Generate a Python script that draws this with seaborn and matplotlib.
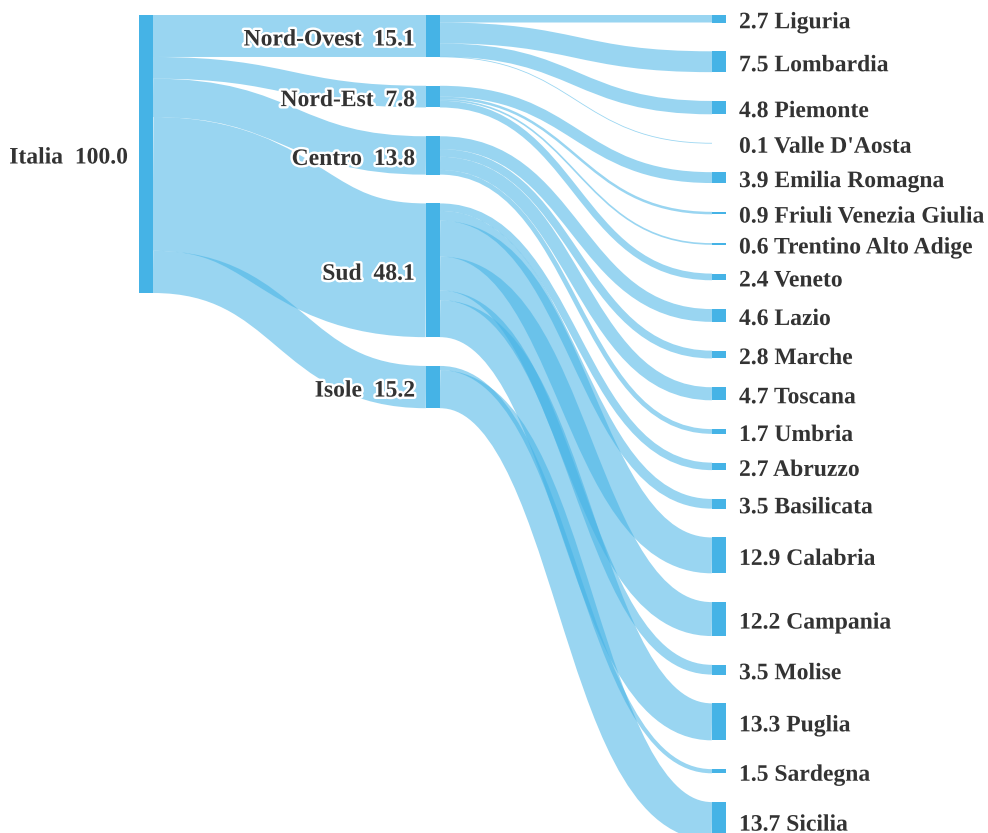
import matplotlib
matplotlib.use("Agg")
import matplotlib.pyplot as plt
import matplotlib.patheffects as pe
from matplotlib.path import Path
from matplotlib.patches import PathPatch, Rectangle
from matplotlib import font_manager
import seaborn as sns

# ---------------- data ----------------
root_name = "Italia"
root_value = 100.0

regions = ["Nord-Ovest", "Nord-Est", "Centro", "Sud", "Isole"]
region_values = [15.1, 7.8, 13.8, 48.1, 15.2]

sub_names = ["Liguria", "Lombardia", "Piemonte", "Valle D'Aosta",
             "Emilia Romagna", "Friuli Venezia Giulia", "Trentino Alto Adige", "Veneto",
             "Lazio", "Marche", "Toscana", "Umbria",
             "Abruzzo", "Basilicata", "Calabria", "Campania", "Molise", "Puglia",
             "Sardegna", "Sicilia"]
sub_values = [2.7, 7.5, 4.8, 0.1,
              3.9, 0.9, 0.6, 2.4,
              4.6, 2.8, 4.7, 1.7,
              2.7, 3.5, 12.9, 12.2, 3.5, 13.3,
              1.5, 13.7]
sub_parent = ["Nord-Ovest"] * 4 + ["Nord-Est"] * 4 + ["Centro"] * 4 + ["Sud"] * 6 + ["Isole"] * 2

# ---------------- style ----------------
sns.set_theme(style="white")
plt.rcParams["font.family"] = ["Liberation Serif", "DejaVu Serif"]
font_file = font_manager.findfont(font_manager.FontProperties(family="Liberation Serif",
                                                               weight="bold"))
fp = font_manager.FontProperties(fname=font_file, size=17)

node_color = "#45b3e6"
link_color = "#45b3e6"
link_alpha = 0.55
text_color = "#333333"

DPI = 100
W, H = 988, 833
fig = plt.figure(figsize=(W / DPI, H / DPI), dpi=DPI)
ax = fig.add_axes([0, 0, 1, 1])
ax.set_xlim(0, W)
ax.set_ylim(H, 0)
ax.axis("off")

# layout parameters (pixels)
top = 15.0
ky = 2.78
gap = 28.8
node_w = 14.0
col_x = [139.0, 426.0, 712.0]


def stack(values):
    ys = []
    y = top
    for v in values:
        ys.append((y, y + v * ky))
        y += v * ky + gap
    return ys


root_pos = [(top, top + root_value * ky)]
reg_pos = stack(region_values)
sub_pos = stack(sub_values)


def draw_link(x0, s0, s1, x1, t0, t1):
    # link drawn as a stroked bezier centre line, width = flow thickness
    xm = (x0 + x1) / 2
    ys = (s0 + s1) / 2
    yt = (t0 + t1) / 2
    width_px = max(s1 - s0, 0.8)
    verts = [(x0, ys), (xm, ys), (xm, yt), (x1, yt)]
    codes = [Path.MOVETO, Path.CURVE4, Path.CURVE4, Path.CURVE4]
    ax.add_patch(PathPatch(Path(verts, codes), facecolor="none", edgecolor=link_color,
                           alpha=link_alpha, linewidth=width_px * 72 / DPI,
                           capstyle="butt", zorder=1))


# links root -> regions
sy = root_pos[0][0]
for (t0, t1), v in zip(reg_pos, region_values):
    h = v * ky
    draw_link(col_x[0] + node_w, sy, sy + h, col_x[1], t0, t1)
    sy += h

# links regions -> sub regions
offsets = {r: reg_pos[i][0] for i, r in enumerate(regions)}
for (t0, t1), v, p in zip(sub_pos, sub_values, sub_parent):
    h = v * ky
    s0 = offsets[p]
    draw_link(col_x[1] + node_w, s0, s0 + h, col_x[2], t0, t1)
    offsets[p] = s0 + h

# nodes
def draw_node(x, y0, y1):
    ax.add_patch(Rectangle((x, y0), node_w, y1 - y0, facecolor=node_color,
                           edgecolor="none", zorder=2))


draw_node(col_x[0], *root_pos[0])
for p in reg_pos:
    draw_node(col_x[1], *p)
for p in sub_pos:
    draw_node(col_x[2], *p)

halo = [pe.withStroke(linewidth=3.5, foreground="white")]
kw = dict(fontproperties=fp, color=text_color, va="center",
          path_effects=halo, zorder=5)

dy = 4
y0, y1 = root_pos[0]
ax.text(col_x[0] - 11, (y0 + y1) / 2 + dy, f"{root_name}  {root_value:.1f}", ha="right", **kw)
for name, v, (a, b) in zip(regions, region_values, reg_pos):
    ax.text(col_x[1] - 11, (a + b) / 2 + dy, f"{name}  {v:.1f}", ha="right", **kw)
for name, v, (a, b) in zip(sub_names, sub_values, sub_pos):
    ax.text(col_x[2] + node_w + 13, (a + b) / 2 + dy, f"{v:.1f} {name}", ha="left", **kw)

fig.savefig("out.png", dpi=DPI, facecolor="white")
